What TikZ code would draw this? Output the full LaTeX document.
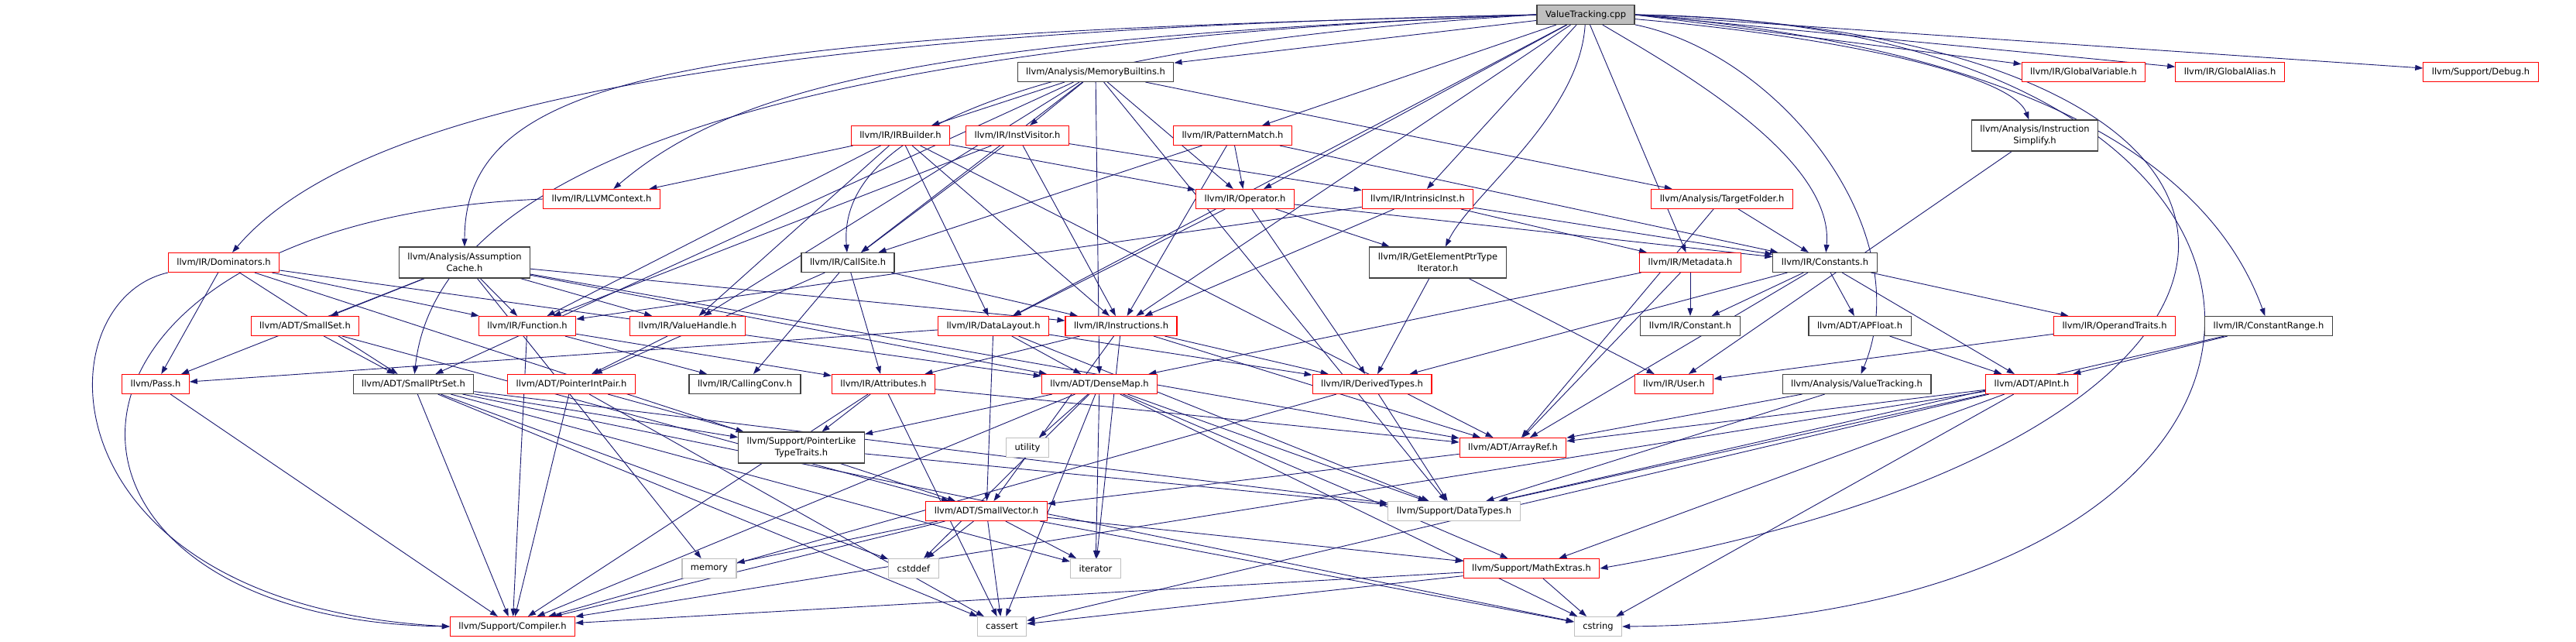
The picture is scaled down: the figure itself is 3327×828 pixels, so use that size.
\documentclass[tikz,border=0pt]{standalone}
\usepackage{fontspec}
\setmainfont{DejaVu Sans}
\usetikzlibrary{arrows.meta}
\definecolor{edgeblue}{RGB}{25,25,112}
\definecolor{boxred}{RGB}{255,0,0}
\definecolor{boxgrey}{RGB}{191,191,191}
\definecolor{boxdark}{RGB}{64,64,64}
\pgfdeclarelayer{background}
\pgfsetlayers{background,main}
\tikzset{
    file/.style={rectangle, draw, line width=1.1pt, fill=white,
        font=\fontsize{11.5}{15}\selectfont, align=center,
        inner xsep=11pt, inner ysep=0pt, minimum height=25pt},
    redfile/.style={file, draw=boxred},
    darkfile/.style={file, draw=boxdark},
    sysfile/.style={file, draw=boxgrey},
    rootfile/.style={file, draw=boxdark, fill=boxgrey},
    tall/.style={minimum height=40pt},
    dep/.style={draw=edgeblue, line width=0.9pt,
        -{Triangle[length=10pt,width=7pt]}},
}

\begin{document}
\begin{tikzpicture}[x=1pt, y=-1pt]
\useasboundingbox (0,0) rectangle (3327,828);

% root and first rank
\node[rootfile] (vtcpp)       at (2048,19)  {ValueTracking.cpp};
\node[darkfile] (membuiltins) at (1415,93)  {llvm/Analysis/MemoryBuiltins.h};
\node[redfile]  (gvar)        at (2691,93)  {llvm/IR/GlobalVariable.h};
\node[redfile]  (galias)      at (2880,93)  {llvm/IR/GlobalAlias.h};
\node[redfile]  (debug)       at (3204,93)  {llvm/Support/Debug.h};

\node[redfile]  (irbuilder)   at (1163,175) {llvm/IR/IRBuilder.h};
\node[redfile]  (instvisitor) at (1314,175) {llvm/IR/InstVisitor.h};
\node[redfile]  (patmatch)    at (1592,175) {llvm/IR/PatternMatch.h};
\node[darkfile,tall] (instsimp) at (2628,175) {llvm/Analysis/Instruction\\Simplify.h};

\node[redfile]  (llvmctx)     at (777,257)  {llvm/IR/LLVMContext.h};
\node[redfile]  (operator)    at (1608,257) {llvm/IR/Operator.h};
\node[redfile]  (intrinsic)   at (1831,257) {llvm/IR/IntrinsicInst.h};
\node[redfile]  (tfolder)     at (2224,257) {llvm/Analysis/TargetFolder.h};

\node[redfile]  (dom)         at (289,339)  {llvm/IR/Dominators.h};
\node[darkfile,tall] (assume) at (600,339)  {llvm/Analysis/Assumption\\Cache.h};
\node[darkfile] (callsite)    at (1095,339) {llvm/IR/CallSite.h};
\node[darkfile,tall] (gepiter) at (1857,339) {llvm/IR/GetElementPtrType\\Iterator.h};
\node[redfile]  (metadata)    at (2183,339) {llvm/IR/Metadata.h};
\node[darkfile] (constants)   at (2357,339) {llvm/IR/Constants.h};

\node[redfile]  (smallset)    at (394,421)  {llvm/ADT/SmallSet.h};
\node[redfile]  (function)    at (681,421)  {llvm/IR/Function.h};
\node[redfile]  (valhandle)   at (888,421)  {llvm/IR/ValueHandle.h};
\node[redfile]  (datalayout)  at (1283,421) {llvm/IR/DataLayout.h};
\node[redfile]  (instrs)      at (1448,421) {llvm/IR/Instructions.h};
\node[darkfile] (constant)    at (2183,421) {llvm/IR/Constant.h};
\node[darkfile] (apfloat)     at (2402,421) {llvm/ADT/APFloat.h};
\node[redfile]  (optraits)    at (2731,421) {llvm/IR/OperandTraits.h};
\node[darkfile] (crange)      at (2930,421) {llvm/IR/ConstantRange.h};

\node[redfile]  (pass)        at (201,496)  {llvm/Pass.h};
\node[darkfile] (smallptrset) at (534,496)  {llvm/ADT/SmallPtrSet.h};
\node[redfile]  (ptrintpair)  at (738,496)  {llvm/ADT/PointerIntPair.h};
\node[darkfile] (callconv)    at (962,496)  {llvm/IR/CallingConv.h};
\node[redfile]  (attrs)       at (1141,496) {llvm/IR/Attributes.h};
\node[redfile]  (densemap)    at (1420,496) {llvm/ADT/DenseMap.h};
\node[redfile]  (derived)     at (1772,496) {llvm/IR/DerivedTypes.h};
\node[redfile]  (user)        at (2162,496) {llvm/IR/User.h};
\node[darkfile] (vth)         at (2398,496) {llvm/Analysis/ValueTracking.h};
\node[redfile]  (apint)       at (2624,496) {llvm/ADT/APInt.h};

\node[darkfile,tall] (ptrlike) at (1035,578) {llvm/Support/PointerLike\\TypeTraits.h};
\node[sysfile]  (utility)     at (1327,578) {utility};
\node[redfile]  (arrayref)    at (1954,578) {llvm/ADT/ArrayRef.h};

\node[redfile]  (smallvec)    at (1274,660) {llvm/ADT/SmallVector.h};
\node[sysfile]  (datatypes)   at (1878,660) {llvm/Support/DataTypes.h};

\node[sysfile]  (memory)      at (916,734)  {memory};
\node[sysfile]  (cstddef)     at (1180,734) {cstddef};
\node[sysfile]  (iterator)    at (1415,734) {iterator};
\node[redfile]  (mathext)     at (1978,734) {llvm/Support/MathExtras.h};

\node[redfile]  (compiler)    at (662,809)  {llvm/Support/Compiler.h};
\node[sysfile]  (cassert)     at (1294,809) {cassert};
\node[sysfile]  (cstring)     at (2064,809) {cstring};

\begin{pgfonlayer}{background}
% what ValueTracking.cpp pulls in
\draw[dep] (vtcpp.west) .. controls (900,40) and (450,150) .. (dom);
\draw[dep] (vtcpp.west) .. controls (900,45) and (600,90) .. (assume);
\draw[dep] (vtcpp.west) .. controls (1200,50) and (950,110) .. (llvmctx);
\draw[dep] (vtcpp.west) .. controls (900,60) and (560,250) .. (smallptrset);
\draw[dep] (vtcpp) -- (membuiltins);
\draw[dep] (vtcpp.west) .. controls (1400,55) and (1080,150) .. (callsite);
\draw[dep] (vtcpp) -- (operator);
\draw[dep] (vtcpp) -- (patmatch);
\draw[dep] (vtcpp) -- (intrinsic);
\draw[dep] (vtcpp) .. controls (2040,150) and (1900,250) .. (gepiter);
\draw[dep] (vtcpp) -- (instrs);
\draw[dep] (vtcpp) -- (datalayout);
\draw[dep] (vtcpp) -- (metadata);
\draw[dep] (vtcpp) .. controls (2150,80) and (2370,200) .. (constants);
\draw[dep] (vtcpp) .. controls (2300,70) and (2480,300) .. (vth);
\draw[dep] (vtcpp.east) -- (gvar);
\draw[dep] (vtcpp.east) -- (galias);
\draw[dep] (vtcpp.east) -- (debug);
\draw[dep] (vtcpp) .. controls (2400,50) and (2600,100) .. (instsimp);
\draw[dep] (vtcpp.east) .. controls (2600,60) and (2850,200) .. (crange);
\draw[dep] (vtcpp.east) .. controls (3047,40) and (3060,560) .. (mathext.east);
\draw[dep] (vtcpp.east) .. controls (3094,30) and (3094,800) .. (cstring.east);

% the analysis and IR headers
\draw[dep] (dom) -- (pass);
\draw[dep] (dom.south west) .. controls (52,390) and (52,780) .. (compiler.west);
\draw[dep] (dom) -- (smallvec);
\draw[dep] (dom) -- (densemap);
\draw[dep] (dom) -- (smallptrset);
\draw[dep] (dom) -- (function);
\draw[dep] (assume) -- (smallset);
\draw[dep] (assume) -- (pass);
\draw[dep] (assume) -- (function);
\draw[dep] (assume) -- (valhandle);
\draw[dep] (assume) -- (instrs);
\draw[dep] (assume) -- (densemap);
\draw[dep] (assume) -- (arrayref);
\draw[dep] (assume) -- (memory);
\draw[dep] (membuiltins) -- (irbuilder);
\draw[dep] (membuiltins) -- (instvisitor);
\draw[dep] (membuiltins) -- (operator);
\draw[dep] (membuiltins) -- (valhandle);
\draw[dep] (membuiltins) -- (callsite);
\draw[dep] (membuiltins) -- (tfolder);
\draw[dep] (membuiltins) -- (datatypes);
\draw[dep] (membuiltins) -- (densemap);
\draw[dep] (membuiltins) -- (smallptrset);
\draw[dep] (irbuilder) -- (llvmctx);
\draw[dep] (irbuilder) -- (function);
\draw[dep] (irbuilder) -- (valhandle);
\draw[dep] (irbuilder) -- (datalayout);
\draw[dep] (irbuilder) -- (instrs);
\draw[dep] (irbuilder) -- (operator);
\draw[dep] (irbuilder) -- (arrayref);
\draw[dep] (instvisitor) -- (function);
\draw[dep] (instvisitor) -- (callsite);
\draw[dep] (instvisitor) -- (instrs);
\draw[dep] (instvisitor) -- (intrinsic);
\draw[dep] (patmatch) -- (callsite);
\draw[dep] (patmatch) -- (instrs);
\draw[dep] (patmatch) -- (operator);
\draw[dep] (patmatch) -- (constants);
\draw[dep] (instsimp) -- (user);
\draw[dep] (llvmctx.west) .. controls (5,285) and (5,800) .. (compiler.west);
\draw[dep] (operator) -- (datalayout);
\draw[dep] (operator) -- (derived);
\draw[dep] (operator) -- (constants);
\draw[dep] (operator) -- (gepiter);
\draw[dep] (intrinsic) -- (function);
\draw[dep] (intrinsic) -- (instrs);
\draw[dep] (intrinsic) -- (metadata);
\draw[dep] (intrinsic) -- (constants);
\draw[dep] (tfolder) -- (constants);
\draw[dep] (tfolder) -- (arrayref);
\draw[dep] (callsite) -- (ptrintpair);
\draw[dep] (callsite) -- (attrs);
\draw[dep] (callsite) -- (callconv);
\draw[dep] (callsite) -- (instrs);
\draw[dep] (gepiter) -- (derived);
\draw[dep] (gepiter) -- (user);
\draw[dep] (metadata) -- (constant);
\draw[dep] (metadata) -- (densemap);
\draw[dep] (metadata) -- (arrayref);
\draw[dep] (constants) -- (constant);
\draw[dep] (constants) -- (apfloat);
\draw[dep] (constants) -- (apint);
\draw[dep] (constants) -- (arrayref);
\draw[dep] (constants) -- (derived);
\draw[dep] (constants) -- (optraits);
\draw[dep] (crange) -- (apint);
\draw[dep] (crange) -- (datatypes);
\draw[dep] (smallset) -- (smallptrset);
\draw[dep] (smallset) -- (smallvec);
\draw[dep] (function) -- (attrs);
\draw[dep] (function) -- (callconv);
\draw[dep] (function) -- (compiler);
\draw[dep] (valhandle) -- (ptrintpair);
\draw[dep] (datalayout) -- (densemap);
\draw[dep] (datalayout) -- (smallvec);
\draw[dep] (datalayout) -- (pass);
\draw[dep] (datalayout) -- (derived);
\draw[dep] (datalayout) -- (datatypes);
\draw[dep] (instrs) -- (arrayref);
\draw[dep] (instrs) -- (attrs);
\draw[dep] (instrs) -- (derived);
\draw[dep] (instrs) -- (iterator);
\draw[dep] (instrs) -- (smallvec);

% the support headers
\draw[dep] (pass) -- (compiler);
\draw[dep] (smallptrset) -- (compiler);
\draw[dep] (smallptrset) -- (ptrlike);
\draw[dep] (smallptrset) -- (datatypes);
\draw[dep] (smallptrset) -- (cassert);
\draw[dep] (smallptrset) -- (cstddef);
\draw[dep] (smallptrset) -- (cstring);
\draw[dep] (smallptrset) -- (iterator);
\draw[dep] (ptrintpair) -- (compiler);
\draw[dep] (ptrintpair) -- (ptrlike);
\draw[dep] (ptrintpair) -- (cassert);
\draw[dep] (attrs) -- (arrayref);
\draw[dep] (attrs) -- (ptrlike);
\draw[dep] (attrs) -- (compiler);
\draw[dep] (attrs) -- (cassert);
\draw[dep] (densemap) -- (utility);
\draw[dep] (densemap) -- (iterator);
\draw[dep] (densemap) -- (cstddef);
\draw[dep] (densemap) -- (ptrlike);
\draw[dep] (densemap) -- (compiler);
\draw[dep] (densemap) -- (cassert);
\draw[dep] (densemap) -- (mathext);
\draw[dep] (densemap) -- (cstring);
\draw[dep] (densemap) -- (datatypes);
\draw[dep] (derived) -- (datatypes);
\draw[dep] (derived) -- (compiler);
\draw[dep] (optraits) -- (user);
\draw[dep] (vth) -- (arrayref);
\draw[dep] (vth) -- (datatypes);
\draw[dep] (apfloat) -- (apint);
\draw[dep] (apint) -- (arrayref);
\draw[dep] (apint) -- (compiler);
\draw[dep] (apint) -- (mathext);
\draw[dep] (apint) -- (cassert);
\draw[dep] (apint) -- (cstring);
\draw[dep] (apint) -- (datatypes);
\draw[dep] (arrayref) -- (smallvec);
\draw[dep] (ptrlike) -- (datatypes);
\draw[dep] (smallvec) -- (memory);
\draw[dep] (smallvec) -- (cstddef);
\draw[dep] (smallvec) -- (iterator);
\draw[dep] (smallvec) -- (cassert);
\draw[dep] (smallvec) -- (mathext);
\draw[dep] (smallvec) -- (compiler);
\draw[dep] (smallvec) -- (cstring);
\draw[dep] (mathext) -- (compiler);
\draw[dep] (mathext) -- (cassert);
\draw[dep] (mathext) -- (cstring);
\end{pgfonlayer}
\end{tikzpicture}
\end{document}
